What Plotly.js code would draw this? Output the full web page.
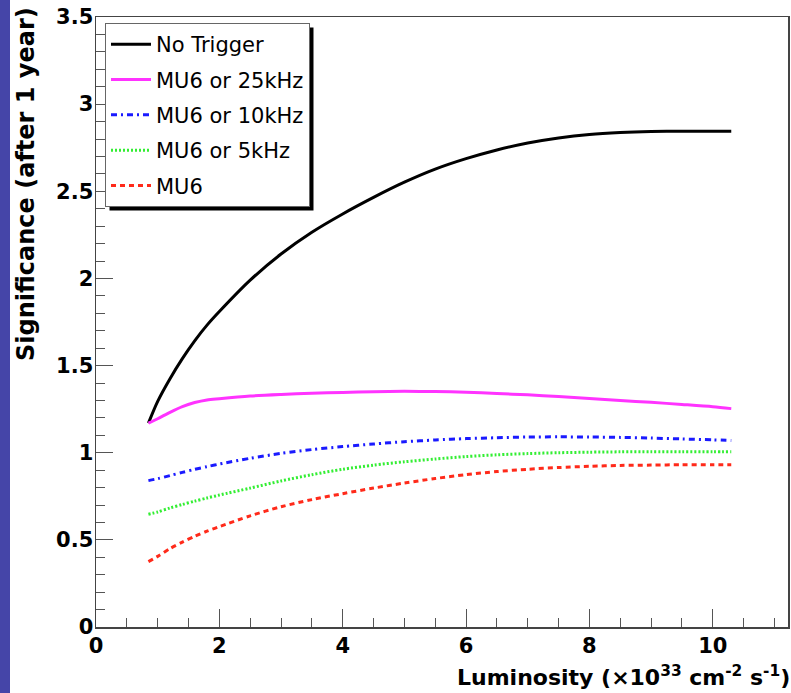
<!DOCTYPE html>
<html>
<head>
<meta charset="utf-8">
<script src="https://cdn.plot.ly/plotly-3.0.1.min.js"></script>
<style>
  html, body { margin: 0; padding: 0; background: #ffffff; }
  #wrap { position: relative; width: 791px; height: 693px; }
  #chart { width: 791px; height: 693px; }
  #strip { position: absolute; left: 0; top: 0; width: 10px; height: 693px; background: #4545a8; z-index: 10; }
</style>
</head>
<body>
<div id="wrap">
  <div id="chart"></div>
  <div id="strip"></div>
</div>
<script>
// Luminosity (x10^33 cm^-2 s^-1)
const luminosity = [0.85, 1.0, 1.2, 1.4, 1.6, 1.8, 2.0, 2.5, 3.0, 3.5, 4.0, 4.5, 5.0, 5.5, 6.0, 6.5, 7.0, 7.5, 8.0, 8.5, 9.0, 9.5, 10.0, 10.3];

const seriesNames = ["No Trigger", "MU6 or 25kHz", "MU6 or 10kHz", "MU6 or 5kHz", "MU6"];

const noTrigger = [1.17, 1.295, 1.425, 1.54, 1.642, 1.732, 1.81, 1.99, 2.14, 2.265, 2.37, 2.465, 2.552, 2.627, 2.687, 2.737, 2.777, 2.806, 2.826, 2.837, 2.843, 2.845, 2.845, 2.845];
const mu6or25k  = [1.17, 1.195, 1.232, 1.265, 1.288, 1.303, 1.31, 1.325, 1.334, 1.341, 1.346, 1.35, 1.352, 1.351, 1.347, 1.34, 1.332, 1.322, 1.311, 1.30, 1.289, 1.277, 1.264, 1.253];
const mu6or10k  = [0.84, 0.851, 0.869, 0.887, 0.905, 0.92, 0.935, 0.968, 0.996, 1.018, 1.035, 1.05, 1.063, 1.073, 1.081, 1.086, 1.09, 1.091, 1.09, 1.088, 1.084, 1.079, 1.074, 1.07];
const mu6or5k   = [0.647, 0.66, 0.683, 0.703, 0.722, 0.74, 0.757, 0.797, 0.838, 0.874, 0.905, 0.929, 0.948, 0.964, 0.978, 0.988, 0.995, 1.0, 1.003, 1.005, 1.006, 1.006, 1.006, 1.006];
const mu6       = [0.375, 0.405, 0.45, 0.487, 0.52, 0.55, 0.576, 0.638, 0.69, 0.731, 0.765, 0.797, 0.826, 0.852, 0.874, 0.892, 0.905, 0.915, 0.922, 0.927, 0.929, 0.931, 0.931, 0.931];

const seriesValues = [noTrigger, mu6or25k, mu6or10k, mu6or5k, mu6];
const seriesColors = ["#000000", "#ff33ff", "#1a1aff", "#33ee33", "#ff2a1a"];
const seriesDash = ["solid", "solid", "6px,4px,2px,4px", "2px,2px", "5px,4px"];

const traces = seriesNames.map((name, i) => ({
  type: "scatter",
  mode: "lines",
  name: name,
  x: luminosity,
  y: seriesValues[i],
  line: { color: seriesColors[i], width: 3, dash: seriesDash[i], shape: "spline", smoothing: 0.8 },
  legendgroup: "g" + i
}));

const font = "DejaVu Sans, Liberation Sans, Arial, sans-serif";
const M = { l: 96, r: 3, t: 17, b: 66 };
const W = 791, H = 693;
const pw = W - M.l - M.r, ph = H - M.t - M.b;

const layout = {
  width: W, height: H,
  margin: M,
  paper_bgcolor: "#ffffff",
  plot_bgcolor: "#ffffff",
  showlegend: true,
  legend: {
    x: 0.013, y: 0.99, xanchor: "left", yanchor: "top",
    bgcolor: "#ffffff", bordercolor: "#666666", borderwidth: 1,
    font: { family: font, size: 21, color: "#000000" },
    traceorder: "grouped", tracegroupgap: 5,
    itemwidth: 40
  },
  xaxis: {
    range: [0, 11.22], tick0: 0, dtick: 2,
    ticks: "inside", ticklen: 18, tickwidth: 1, tickcolor: "#555555",
    minor: { dtick: 0.5, ticks: "inside", ticklen: 9, tickcolor: "#555555", tickwidth: 1 },
    showline: true, linecolor: "#444444", linewidth: 1.5, mirror: true,
    showgrid: false, zeroline: false,
    tickfont: { family: font, size: 21, color: "#000000", weight: "bold" },
    ticklabelstandoff: -1
  },
  yaxis: {
    range: [0, 3.5], tick0: 0, dtick: 0.5,
    ticks: "inside", ticklen: 17, tickwidth: 1, tickcolor: "#555555",
    minor: { dtick: 0.1, ticks: "inside", ticklen: 9, tickcolor: "#555555", tickwidth: 1 },
    showline: true, linecolor: "#444444", linewidth: 1.5, mirror: true,
    showgrid: false, zeroline: false,
    tickfont: { family: font, size: 21, color: "#000000", weight: "bold" },
    ticklabelstandoff: -3
  },
  annotations: [
    {
      xref: "paper", yref: "paper",
      x: (26 - M.l) / pw, y: (H - M.b - 184) / ph,
      xanchor: "center", yanchor: "middle",
      textangle: -90, showarrow: false,
      text: "Significance (after 1 year)",
      font: { family: font, size: 24, color: "#000000", weight: "bold" }
    },
    {
      xref: "paper", yref: "paper",
      x: 1.0 + 4 / pw, y: (H - M.b - 676) / ph,
      xanchor: "right", yanchor: "middle",
      showarrow: false,
      text: "Luminosity (\u00d710<sup>33</sup> cm<sup>-2</sup> s<sup>-1</sup>)",
      font: { family: font, size: 22, color: "#000000", weight: "bold" }
    }
  ]
};

Plotly.newPlot("chart", traces, layout, { displayModeBar: false, staticPlot: true }).then(gd => {
  const bg = gd.querySelector(".legend .bg");
  if (!bg) return;
  const r = bg.getBoundingClientRect();
  const c = gd.getBoundingClientRect();
  const x0 = r.left - c.left, x1 = r.right - c.left, y0 = r.top - c.top, y1 = r.bottom - c.top;
  const s = 4;
  const toPX = px => (px - M.l) / pw;
  const toPY = py => (H - M.b - py) / ph;
  Plotly.relayout(gd, {
    shapes: [{
      type: "rect", xref: "paper", yref: "paper", layer: "above",
      x0: toPX(x0 + s), x1: toPX(x1 + s), y0: toPY(y1 + s), y1: toPY(y0 + s),
      fillcolor: "#000000", line: { width: 0 }
    }]
  });
});
</script>
</body>
</html>
